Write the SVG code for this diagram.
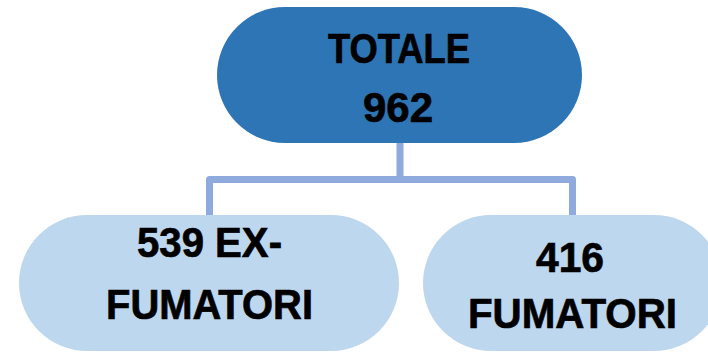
<svg xmlns="http://www.w3.org/2000/svg" width="708" height="354" viewBox="0 0 708 354">
<style>
.t{font-family:"Liberation Sans",Arial,sans-serif;font-weight:bold;font-size:42px;fill:#000;stroke:#000;stroke-width:0.7;text-anchor:middle}
.conn{fill:none;stroke:#8FAADC;stroke-width:7;stroke-linejoin:round}
</style>
<rect width="708" height="354" fill="#fff"/>
<g id="connectors">
<path class="conn" d="M400,143 V179.5"/>
<path class="conn" d="M209.5,215 V179.5 H572.5 V215"/>
</g>
<g id="totale">
<rect x="217" y="7" width="365" height="136" rx="68" fill="#2E75B6"/>
<text class="t" x="399" y="63" textLength="142" lengthAdjust="spacingAndGlyphs">TOTALE</text>
<text class="t" x="398" y="122" textLength="70" lengthAdjust="spacingAndGlyphs">962</text>
</g>
<g id="exfumatori">
<rect x="19" y="215" width="380" height="136" rx="68" fill="#BDD7EE"/>
<text class="t" x="209.5" y="257" textLength="145" lengthAdjust="spacingAndGlyphs">539 EX-</text>
<text class="t" x="209.5" y="319" textLength="207" lengthAdjust="spacingAndGlyphs">FUMATORI</text>
</g>
<g id="fumatori">
<rect x="423" y="215" width="299" height="136" rx="68" fill="#BDD7EE"/>
<text class="t" x="570" y="272" textLength="68" lengthAdjust="spacingAndGlyphs">416</text>
<text class="t" x="572.5" y="328" textLength="209" lengthAdjust="spacingAndGlyphs">FUMATORI</text>
</g>
</svg>
